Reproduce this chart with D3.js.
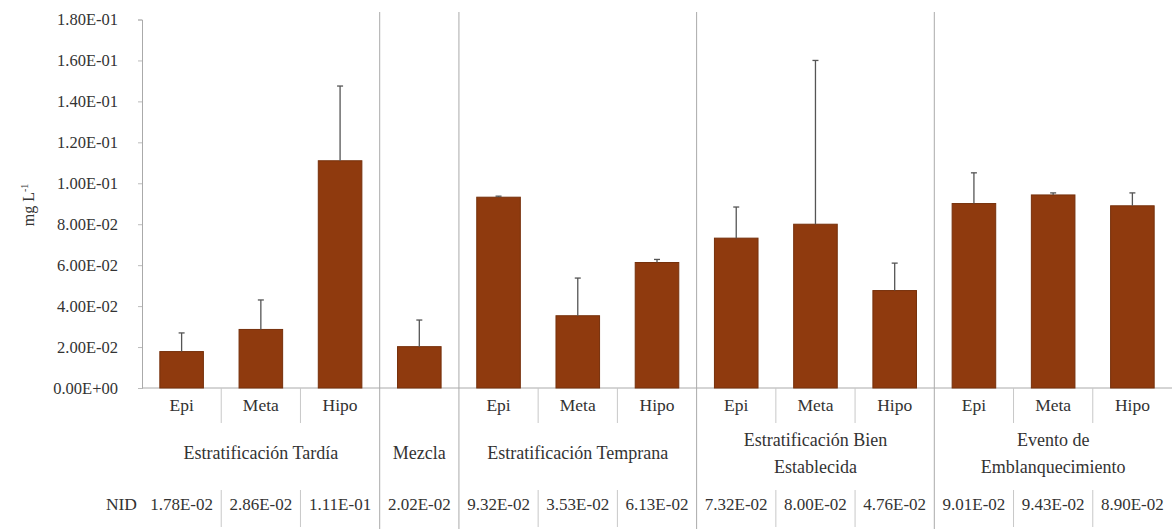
<!DOCTYPE html>
<html lang="es">
<head>
  <meta charset="UTF-8">
  <title>NID por periodo</title>
  <script src="https://d3js.org/d3.v7.min.js"></script>
  <style>
    body { margin: 0; background: #fff; }
    svg { display: block; }
    svg text { font-family: "Liberation Serif", "DejaVu Serif", serif; fill: #333; }
  </style>
</head>
<body>
  <svg id="chart" width="1174" height="529"></svg>

  <script>
    // categories
    const layers = ["Epi", "Meta", "Hipo", "", "Epi", "Meta", "Hipo", "Epi", "Meta", "Hipo", "Epi", "Meta", "Hipo"];
    const groups = [
      { name: ["Estratificación Tardía"], size: 3 },
      { name: ["Mezcla"], size: 1 },
      { name: ["Estratificación Temprana"], size: 3 },
      { name: ["Estratificación Bien", "Establecida"], size: 3 },
      { name: ["Evento de", "Emblanquecimiento"], size: 3 }
    ];
    // series values
    const nid = [0.0178, 0.0286, 0.111, 0.0202, 0.0932, 0.0353, 0.0613, 0.0732, 0.0800, 0.0476, 0.0901, 0.0943, 0.0890];
    const nidErr = [0.0091, 0.0144, 0.0365, 0.013, 0.0005, 0.0184, 0.0015, 0.0152, 0.080, 0.0134, 0.015, 0.001, 0.0063];
    const nidLabels = ["1.78E-02", "2.86E-02", "1.11E-01", "2.02E-02", "9.32E-02", "3.53E-02", "6.13E-02",
                       "7.32E-02", "8.00E-02", "4.76E-02", "9.01E-02", "9.43E-02", "8.90E-02"];
    // tick labels
    const yTicks = [0, 0.02, 0.04, 0.06, 0.08, 0.10, 0.12, 0.14, 0.16, 0.18];
    const yTickLabels = ["0.00E+00", "2.00E-02", "4.00E-02", "6.00E-02", "8.00E-02",
                         "1.00E-01", "1.20E-01", "1.40E-01", "1.60E-01", "1.80E-01"];

    const svg = d3.select("#chart");
    const plotL = 142, plotR = 1172, plotT = 19.5, base = 388;
    const idx = d3.range(nid.length);
    const serif = '"Liberation Serif", "DejaVu Serif", serif';

    const x = d3.scaleBand().domain(idx).range([plotL, plotR]).paddingInner(0.45).paddingOuter(0.225);
    const step = x.step();
    const y = d3.scaleLinear().domain([0, 0.18]).range([base, plotT]);
    const cx = i => x(i) + x.bandwidth() / 2;
    const edge = i => plotL + i * step;

    // y axis
    const yAxis = d3.axisLeft(y).tickValues(yTicks)
      .tickFormat((d, i) => yTickLabels[i]).tickSize(4).tickPadding(20);
    const ga = svg.append("g").attr("transform", `translate(${plotL},0)`).call(yAxis)
      .attr("font-family", serif).attr("font-size", 16.5);
    ga.select(".domain").attr("stroke", "#aaa");
    ga.selectAll(".tick line").attr("stroke", "#bbb");
    ga.selectAll(".tick text").attr("fill", "#333");

    svg.append("text")
      .attr("transform", `translate(34,205) rotate(-90)`)
      .attr("text-anchor", "middle")
      .attr("font-size", 16)
      .html('mg L<tspan dy="-6" font-size="10">-1</tspan>');

    // baseline
    svg.append("line").attr("x1", plotL).attr("x2", plotR).attr("y1", base).attr("y2", base)
      .attr("stroke", "#aaa");

    // group separators (full height) and inner dividers
    let acc = 0;
    const groupStart = [];
    groups.forEach(g => { groupStart.push(acc); acc += g.size; });
    groupStart.slice(1).forEach(s => {
      svg.append("line").attr("x1", edge(s)).attr("x2", edge(s)).attr("y1", 12).attr("y2", 529)
        .attr("stroke", "#aaa").attr("stroke-width", 1);
    });
    groups.forEach((g, gi) => {
      for (let k = 1; k < g.size; k++) {
        const xx = edge(groupStart[gi] + k);
        svg.append("line").attr("x1", xx).attr("x2", xx).attr("y1", base).attr("y2", 423).attr("stroke", "#c8c8c8");
        svg.append("line").attr("x1", xx).attr("x2", xx).attr("y1", 490).attr("y2", 527).attr("stroke", "#c8c8c8");
      }
    });

    // bars
    svg.append("g").selectAll("rect").data(idx).join("rect")
      .attr("x", i => x(i))
      .attr("y", i => y(nid[i]))
      .attr("width", x.bandwidth())
      .attr("height", i => base - y(nid[i]))
      .attr("fill", "#8f3a0e")
      .attr("stroke", "#76300b")
      .attr("stroke-width", 1);

    // error bars
    const eb = svg.append("g").attr("stroke", "#555").attr("stroke-width", 1.3);
    idx.forEach(i => {
      const y0 = y(nid[i]), y1 = y(nid[i] + nidErr[i]);
      eb.append("line").attr("x1", cx(i)).attr("x2", cx(i)).attr("y1", y0).attr("y2", y1);
      eb.append("line").attr("x1", cx(i) - 3).attr("x2", cx(i) + 3).attr("y1", y1).attr("y2", y1);
    });

    // category labels
    svg.append("g").selectAll("text").data(idx).join("text")
      .attr("x", cx).attr("y", 411)
      .attr("text-anchor", "middle").attr("font-size", 17.5)
      .text(i => layers[i]);

    // group labels
    groups.forEach((g, gi) => {
      const mid = plotL + (groupStart[gi] + g.size / 2) * step;
      const lines = g.name;
      const y0 = lines.length === 1 ? 459 : 446;
      lines.forEach((t, li) => {
        svg.append("text").attr("x", mid).attr("y", y0 + li * 27)
          .attr("text-anchor", "middle").attr("font-size", 18).text(t);
      });
    });

    // data table
    svg.append("text").attr("x", 137).attr("y", 510).attr("text-anchor", "end")
      .attr("font-size", 17.5).text("NID");
    svg.append("g").selectAll("text").data(idx).join("text")
      .attr("x", cx).attr("y", 510)
      .attr("text-anchor", "middle").attr("font-size", 17)
      .text(i => nidLabels[i]);
  </script>
</body>
</html>
